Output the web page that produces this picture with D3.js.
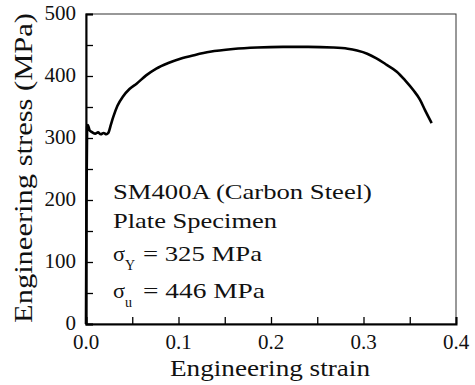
<!DOCTYPE html>
<html>
<head>
<meta charset="utf-8">
<script src="https://cdn.jsdelivr.net/npm/d3@7"></script>
<style>
  html, body { margin: 0; padding: 0; background: #fff; }
</style>
</head>
<body>
<div id="chart"></div>
<script>
// Stress-strain curve
const strain = [0, 0.0005, 0.0012, 0.002, 0.004, 0.007, 0.010, 0.013, 0.016, 0.019, 0.022, 0.024,
  0.027, 0.0295, 0.034, 0.040, 0.047, 0.055, 0.065, 0.076, 0.089, 0.102, 0.118, 0.134, 0.159,
  0.185, 0.213, 0.240, 0.267, 0.283, 0.293, 0.304, 0.314, 0.324, 0.336, 0.345, 0.354, 0.361,
  0.3665, 0.3737];
const stress = [0, 200, 318, 321, 312, 309, 307, 309, 306, 308, 306, 308,
  322, 334, 352, 367, 379, 388, 401, 412, 421, 428, 434, 439, 443.5,
  446, 447, 447, 446, 444, 441, 436, 428.5, 419, 407, 393, 377, 362,
  345, 324];

const xTicks = [0, 0.1, 0.2, 0.3, 0.4];
const yTicks = [0, 100, 200, 300, 400, 500];

const notes = [
  { text: 'SM400A (Carbon Steel)', y: 199, len: 259 },
  { text: 'Plate Specimen', y: 228, len: 164 },
  { text: '= 325 MPa', y: 261, sym: 'σ', sub: 'Y', len: 119 },
  { text: '= 446 MPa', y: 298, sym: 'σ', sub: 'u', len: 122 }
];

const W = 475, H = 385;
const margin = { left: 86, right: 19, top: 14, bottom: 61 };
const FONT = "'Liberation Serif', 'Times New Roman', serif";

const svg = d3.select('#chart').append('svg')
  .attr('width', W).attr('height', H);

const x = d3.scaleLinear().domain([0, 0.4]).range([margin.left, W - margin.right]);
const y = d3.scaleLinear().domain([0, 500]).range([H - margin.bottom, margin.top]);

function label(parent, txt, size, len) {
  const t = parent.append('text')
    .style('font-family', FONT)
    .style('font-size', size + 'px')
    .style('fill', '#111')
    .text(txt);
  // the reference type is drawn a bit wide, so stretch to the measured length
  if (len) t.attr('textLength', len).attr('lengthAdjust', 'spacingAndGlyphs');
  return t;
}

// frame (top / right thin)
svg.append('rect')
  .attr('x', x(0)).attr('y', y(500))
  .attr('width', x(0.4) - x(0)).attr('height', y(0) - y(500))
  .attr('fill', 'none').attr('stroke', '#333').attr('stroke-width', 1);

// minor + major ticks, pointing inward
const xAxis = svg.append('g').attr('transform', `translate(0,${y(0)})`)
  .call(d3.axisBottom(x).tickValues(d3.range(0, 0.401, 0.05)).tickSize(-7).tickFormat(''));
const yAxis = svg.append('g').attr('transform', `translate(${x(0)},0)`)
  .call(d3.axisLeft(y).tickValues(d3.range(0, 501, 50)).tickSize(-7).tickFormat(''));
[xAxis, yAxis].forEach(g => {
  g.select('.domain').attr('stroke', '#000').attr('stroke-width', 2);
  g.selectAll('.tick line').attr('stroke', '#000').attr('stroke-width', 1.3);
});

const xl = svg.append('g');
xTicks.forEach(d => {
  label(xl, d.toFixed(1), 21).attr('x', x(d)).attr('y', 349).attr('text-anchor', 'middle');
});

const yl = svg.append('g');
yTicks.forEach(d => {
  label(yl, d, 21).attr('x', 76).attr('y', y(d) + 6).attr('text-anchor', 'end');
});

label(svg, 'Engineering strain', 23, 200)
  .attr('x', 170).attr('y', 376);

label(svg, 'Engineering stress (MPa)', 25, 310)
  .attr('transform', `translate(32,323) rotate(-90)`);

// curve
const line = d3.line().x(d => x(d[0])).y(d => y(d[1])).curve(d3.curveMonotoneX);
svg.append('path')
  .datum(d3.zip(strain, stress))
  .attr('d', line)
  .attr('fill', 'none').attr('stroke', '#000')
  .attr('stroke-width', 2.6).attr('stroke-linejoin', 'round');

// annotation
const ann = svg.append('g');
notes.forEach(n => {
  if (n.sym) {
    label(ann, n.sym, 22, 12).attr('x', 113).attr('y', n.y);
    label(ann, n.sub, 14).attr('x', 125).attr('y', n.y + 9);
    label(ann, n.text, 22, n.len).attr('x', 143).attr('y', n.y);
  } else {
    label(ann, n.text, 22, n.len).attr('x', 113).attr('y', n.y);
  }
});
</script>
</body>
</html>
